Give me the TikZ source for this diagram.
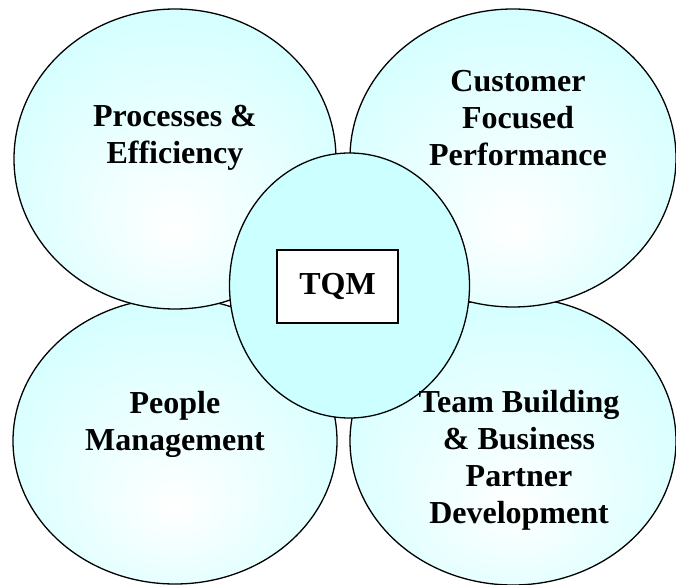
\documentclass[tikz,border=0pt]{standalone}
\usepackage{fontspec}
\setmainfont{Liberation Serif}
\usetikzlibrary{shapes.geometric}
\definecolor{bubblecyan}{RGB}{204,255,255}
\pgfdeclareradialshading{bubbleshade}{\pgfpoint{0bp}{-12bp}}{color(0bp)=(white); color(36bp)=(bubblecyan); color(50bp)=(bubblecyan)}
\begin{document}
\begin{tikzpicture}[x=1pt,y=-1pt,
  bubble/.style={ellipse, draw=black, line width=1.3pt, shading=bubbleshade, inner sep=0pt},
  hub/.style={ellipse, draw=black, line width=1.3pt, fill=bubblecyan, inner sep=0pt},
  labeltext/.style={font=\bfseries\fontsize{32}{37}\selectfont, align=center, inner sep=0pt},
  tqmbox/.style={draw=black, line width=1.2pt, fill=white, font=\bfseries\fontsize{32}{37}\selectfont, minimum width=121pt, minimum height=73pt, inner sep=0pt}]
\useasboundingbox (0,0) rectangle (676,585);
\begin{scope}
\clip (0,0) rectangle (676,585);
\node[bubble, minimum width=324pt, minimum height=286pt] (bl) at (175,441) {};
\node[bubble, minimum width=322pt, minimum height=300pt] (tl) at (175,159) {};
\node[bubble, minimum width=326pt, minimum height=288pt] (br) at (513,441) {};
\node[bubble, minimum width=326pt, minimum height=298pt] (tr) at (513,158) {};
\node[hub, minimum width=240pt, minimum height=265pt] (hubc) at (349.5,285.5) {};
\end{scope}
\node[labeltext] (tlt) at (175,138) {Processes \&\\Efficiency};
\node[labeltext] (trt) at (518,118) {Customer\\Focused\\Performance};
\node[labeltext] (blt) at (175,424) {People\\Management};
\node[labeltext] (brt) at (519,460) {Team Building\\\& Business\\Partner\\Development};
\node[tqmbox] (tqm) at (337.5,286.5) {TQM};
\end{tikzpicture}
\end{document}
